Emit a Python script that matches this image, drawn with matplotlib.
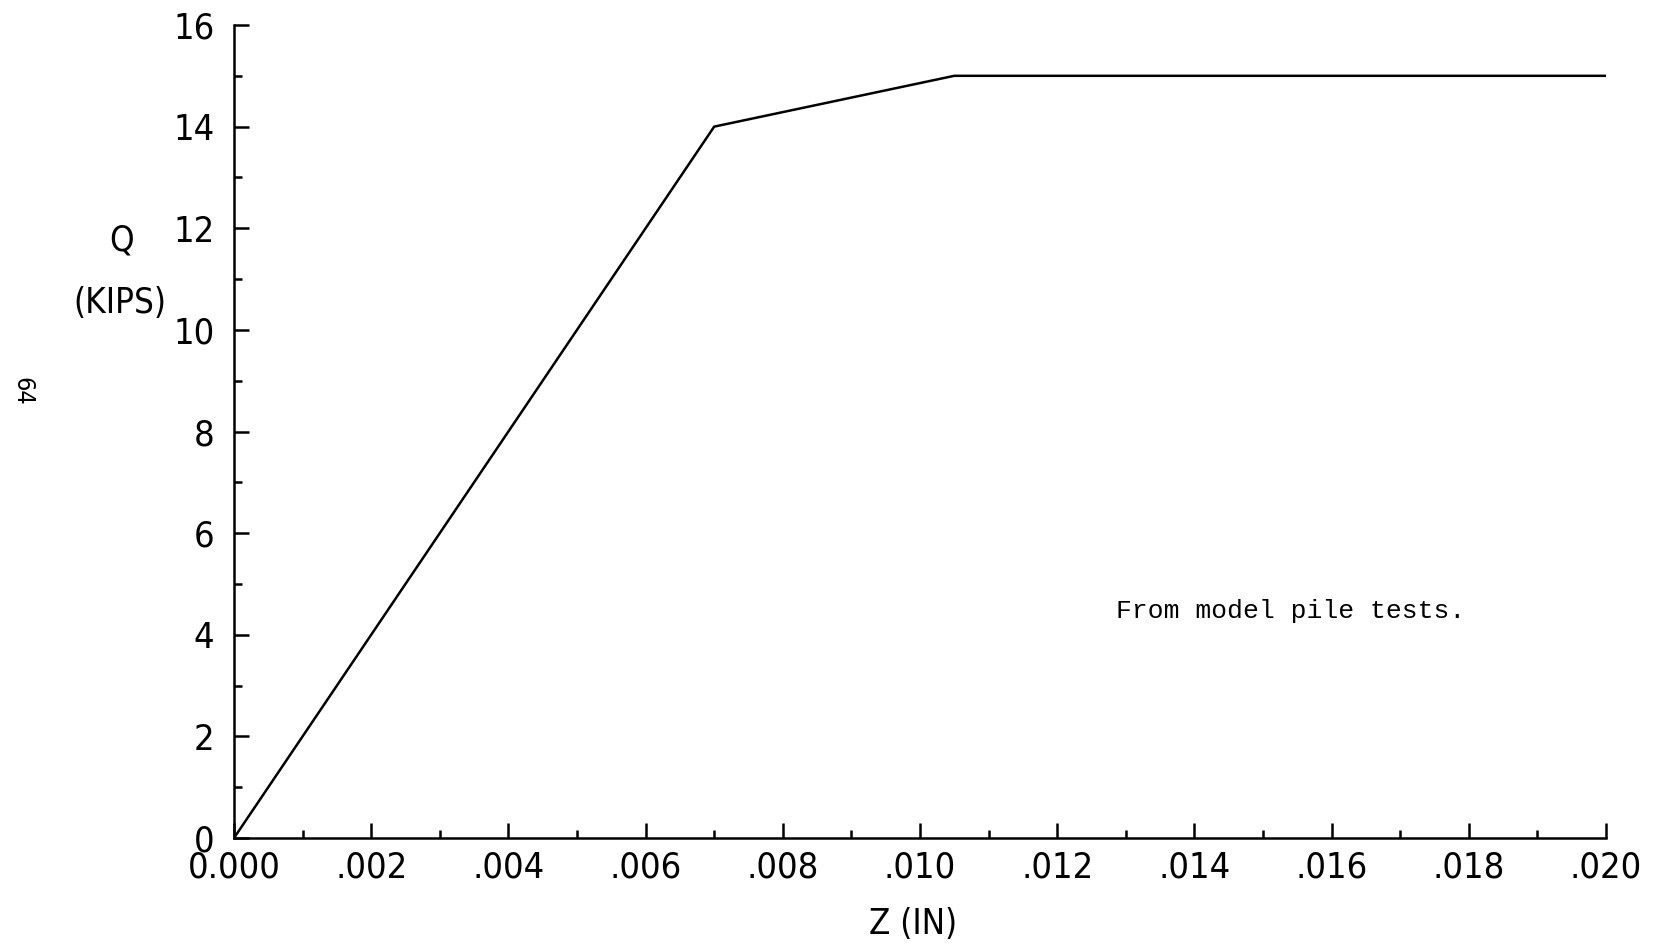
import matplotlib
matplotlib.use("Agg")
import matplotlib.pyplot as plt
import numpy as np

# Q-Z curve
z_in = [0.0, 0.0070, 0.0105, 0.0200]
q_kips = [0.0, 14.0, 15.0, 15.0]

xticks = [0.000, 0.002, 0.004, 0.006, 0.008, 0.010, 0.012, 0.014, 0.016, 0.018, 0.020]
xlabels = ["0.000", ".002", ".004", ".006", ".008", ".010", ".012", ".014", ".016", ".018", ".020"]
yticks = [0, 2, 4, 6, 8, 10, 12, 14, 16]
ylabels = ["0", "2", "4", "6", "8", "10", "12", "14", "16"]

plt.rcParams['font.family'] = ['DejaVu Sans']
plt.rcParams['font.stretch'] = 'condensed'

W, H = 1653, 947
fig = plt.figure(figsize=(W / 100, H / 100), dpi=100)
ax = fig.add_axes([234 / W, 1 - 838 / H, (1606 - 234) / W, (838 - 25) / H])

ax.plot(z_in, q_kips, color='black', lw=1.8, solid_joinstyle='miter')

ax.set_xlim(0, 0.020)
ax.set_ylim(0, 16)
ax.set_xticks(xticks)
ax.set_xticklabels(xlabels)
ax.set_yticks(yticks)
ax.set_yticklabels(ylabels)
ax.set_xticks(np.arange(0.001, 0.020, 0.002), minor=True)
ax.set_yticks(np.arange(1, 16, 2), minor=True)

for s in ['top', 'right']:
    ax.spines[s].set_visible(False)
for s in ['left', 'bottom']:
    ax.spines[s].set_linewidth(1.8)

ax.tick_params(which='major', direction='in', length=11, width=1.8, labelsize=26)
ax.tick_params(which='minor', direction='in', length=6, width=1.8)
ax.tick_params(axis='x', pad=9)
ax.tick_params(axis='y', pad=14)

fig.text(122 / W, 1 - 240 / H, "Q", fontsize=25, ha='center', va='center')
fig.text(120 / W, 1 - 303 / H, "(KIPS)", fontsize=25, ha='center', va='center')
fig.text(913 / W, 1 - 924 / H, "Z (IN)", fontsize=25, ha='center', va='center')
fig.text(1291 / W, 1 - 611 / H, "From model pile tests.", fontsize=19,
         family=['Liberation Mono', 'DejaVu Sans Mono'], ha='center', va='center')
fig.text(22 / W, 1 - 391 / H, "64", fontsize=18, rotation=-90, ha='center', va='center')

fig.savefig("out.png", dpi=100)
